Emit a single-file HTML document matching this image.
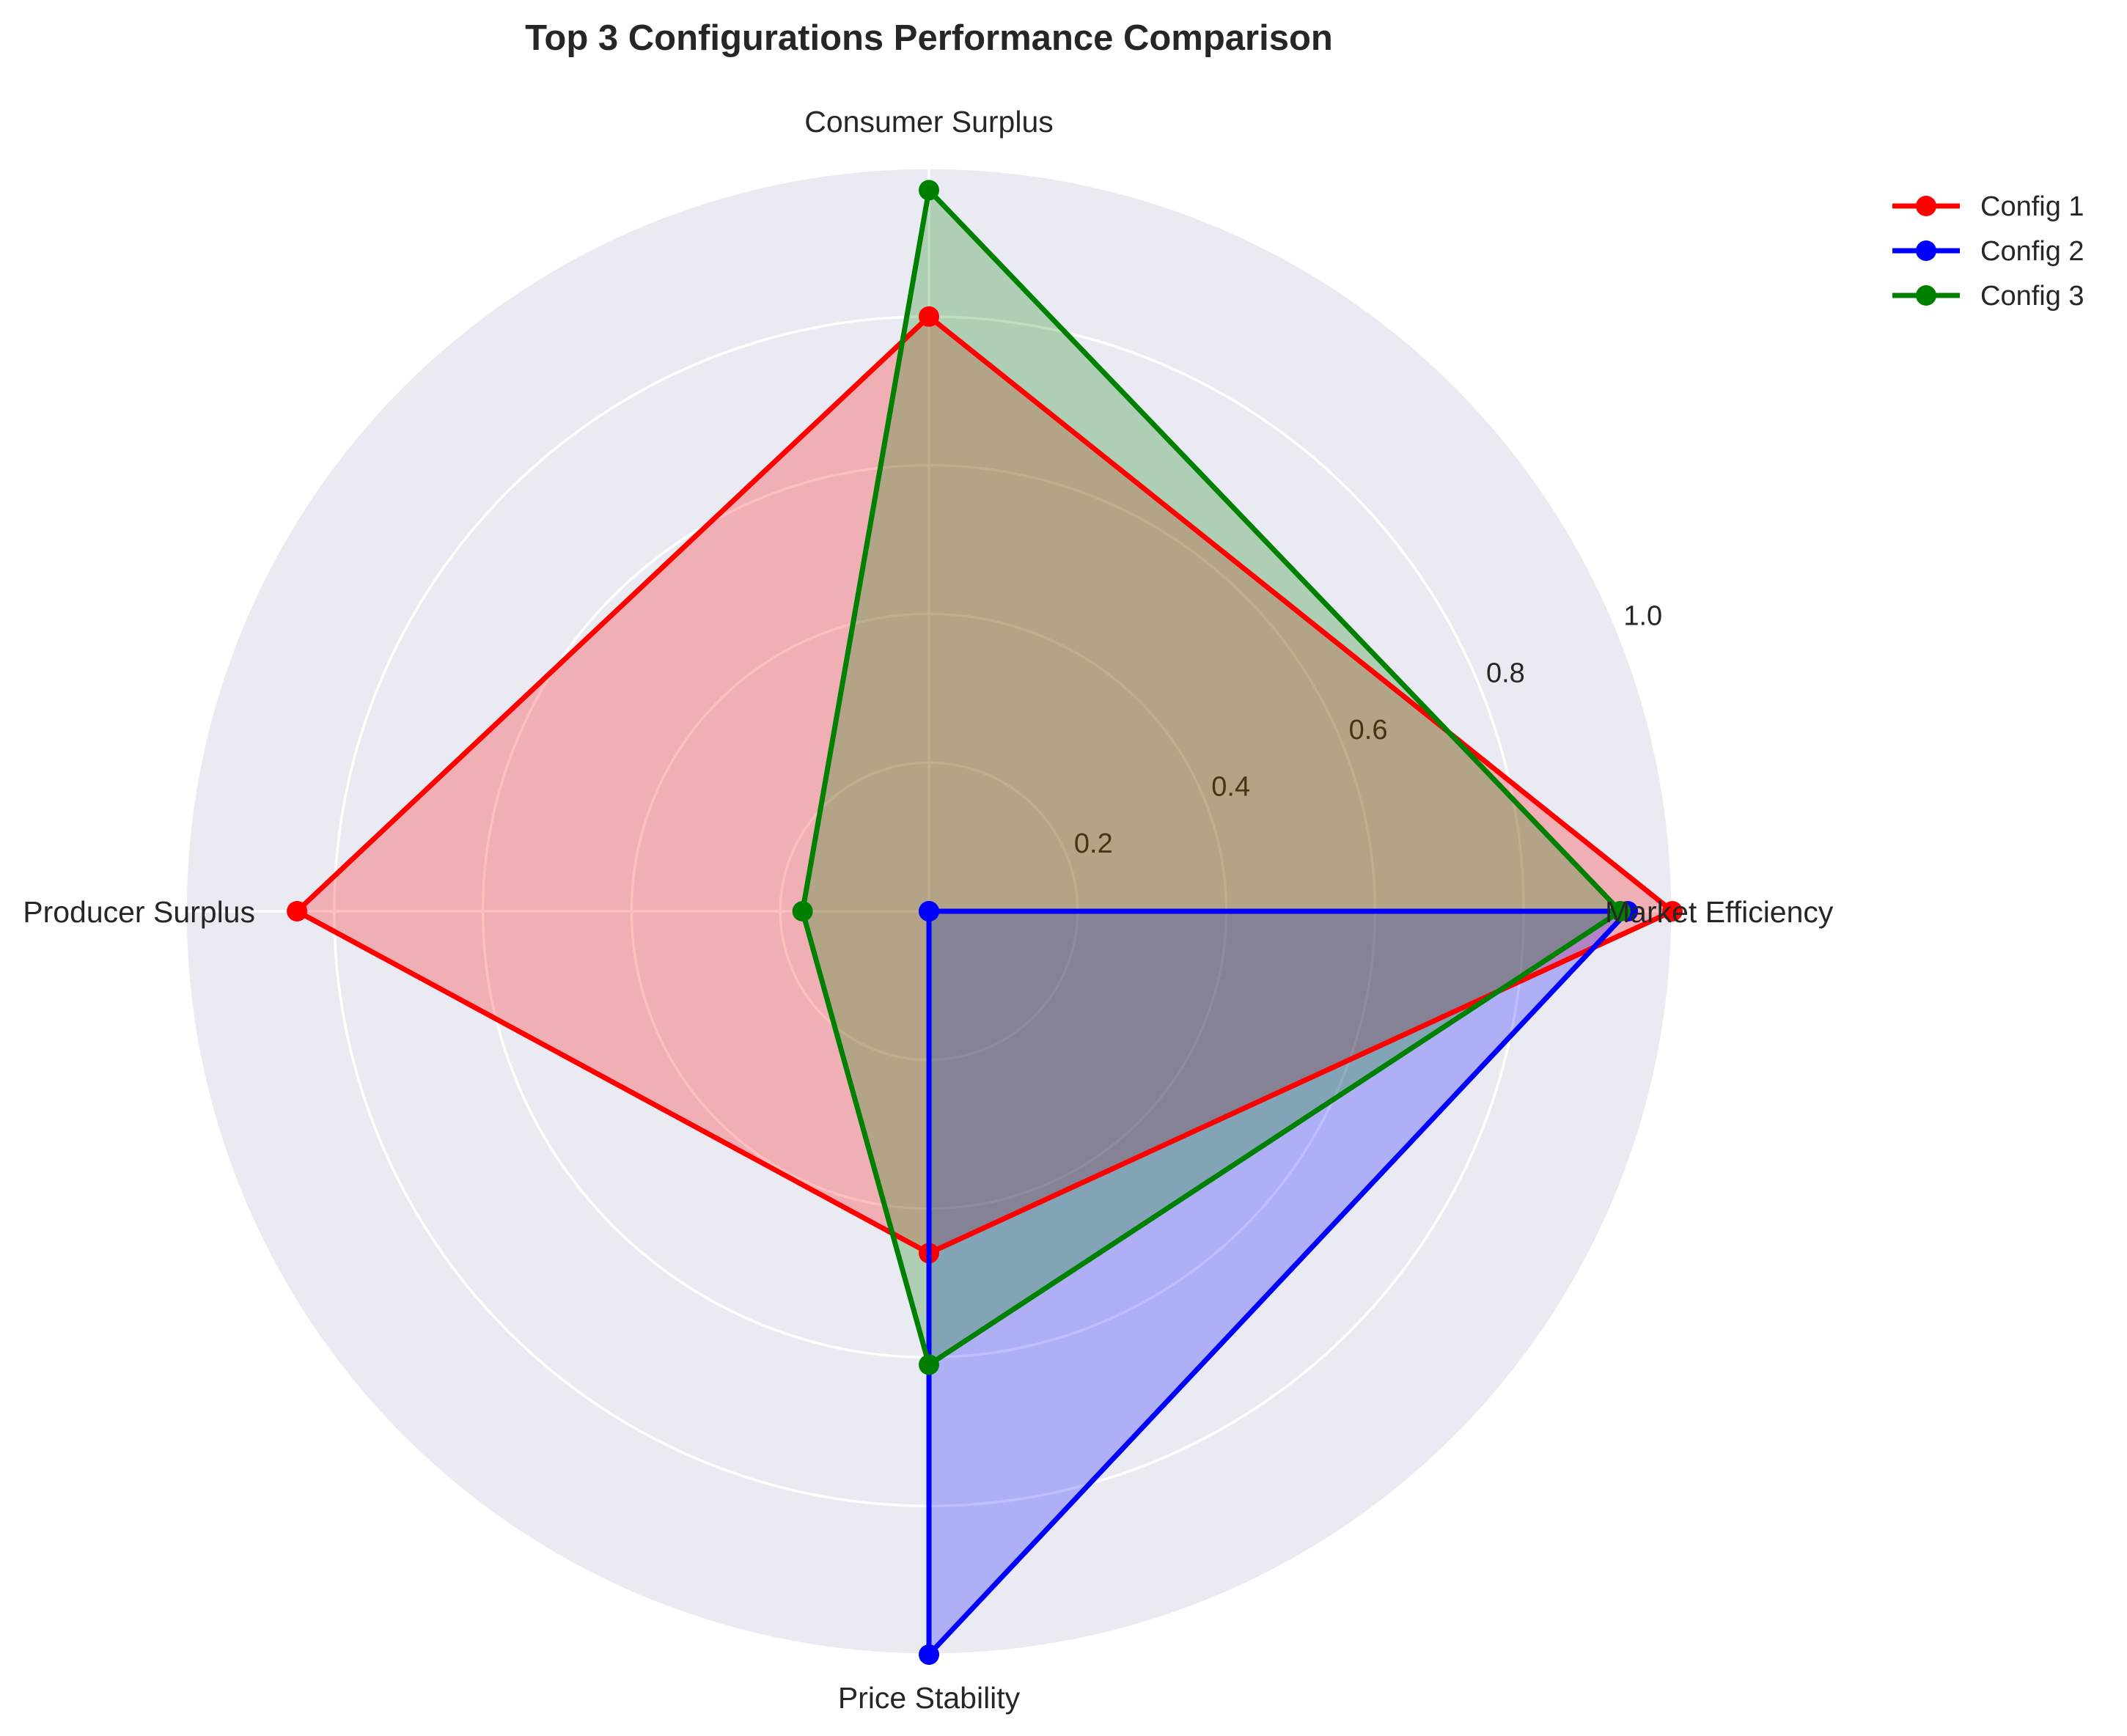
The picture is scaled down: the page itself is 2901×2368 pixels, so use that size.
<!DOCTYPE html>
<html><head><meta charset="utf-8"><style>
body{margin:0;background:#fff;}
svg{display:block;font-family:"Liberation Sans",sans-serif;}
</style></head><body>
<svg id="chart" width="2901" height="2368" viewBox="0 0 2901 2368">
<text x="1267" y="68" text-anchor="middle" font-size="49" font-weight="bold" fill="#262626">Top 3 Configurations Performance Comparison</text>
<g id="grid"></g><g id="series"></g><g id="labels"></g><g id="legend"></g>
</svg>
<script>
const categories = ["Market Efficiency","Consumer Surplus","Producer Surplus","Price Stability"];
const seriesNames = ["Config 1","Config 2","Config 3"];
const config1 = [1.0, 0.80, 0.85, 0.46];
const config2 = [0.94, 0.0, 0.0, 1.0];
const config3 = [0.93, 0.97, 0.17, 0.61];
const rTicks = [0.2, 0.4, 0.6, 0.8, 1.0];
const rTickLabels = ["0.2","0.4","0.6","0.8","1.0"];
const colors = ["#ff0000","#0000ff","#008000"];
const allSeries = [config1, config2, config3];

const NS = "http://www.w3.org/2000/svg";
const cx = 1267, cy = 1243, R = 1014;
function rScale(v){ return v * R; }
function ang(i){ return i * 2 * Math.PI / categories.length; }
function pt(i, v){ const a = ang(i), r = rScale(v); return [cx + r*Math.cos(a), cy - r*Math.sin(a)]; }
function mk(tag, attrs, parent){ const e = document.createElementNS(NS, tag); for (const k in attrs) e.setAttribute(k, attrs[k]); parent.appendChild(e); return e; }

const grid = document.getElementById('grid');
const bg = mk('circle', {cx:cx, cy:cy, r:R, fill:'#eaeaf2'}, grid);


rTicks.forEach((t, k) => {
  const c = mk('circle', {cx:cx, cy:cy, r:rScale(t), fill:'none', stroke:'#fff', 'stroke-width':3.5}, grid);
  
  
  const a = 22.5 * Math.PI / 180, rr = rScale(t) + 40;
  const tx = mk('text', {x:cx + rr*Math.cos(a), y:cy - rr*Math.sin(a) + 13, 'text-anchor':'middle', 'font-size':38, fill:'#262626'}, grid);
  tx.textContent = rTickLabels[k];
  
  
});
categories.forEach((c, i) => {
  const [x, y] = pt(i, 1);
  const l = mk('line', {x1:cx, y1:cy, x2:x, y2:y, stroke:'#fff', 'stroke-width':3.5}, grid);
  
  
});

const sg = document.getElementById('series');
const fillLayer = mk('g', {}, sg);
const lineLayer = mk('g', {}, sg);
allSeries.forEach((vals, s) => {
  const pts = vals.map((v, i) => pt(i, v));
  const d = pts.map(p => p[0].toFixed(1) + ',' + p[1].toFixed(1)).join(' ');
  const fill = mk('polygon', {points:d, fill:colors[s], 'fill-opacity':0.25, stroke:'none'}, fillLayer);
  
  
  const line = mk('polygon', {points:d, fill:'none', stroke:colors[s], 'stroke-width':7, 'stroke-linejoin':'miter'}, lineLayer);
  
  
  pts.forEach(p => {
    const m = mk('circle', {cx:p[0], cy:p[1], r:14, fill:colors[s]}, lineLayer);
    
    
  });
});

const lg = document.getElementById('labels');
const labPos = [[2189,1258,'start'],[1267,180,'middle'],[348,1258,'end'],[1267,2330,'middle']];
categories.forEach((c, i) => {
  const t = mk('text', {x:labPos[i][0], y:labPos[i][1], 'text-anchor':labPos[i][2], 'font-size':41, fill:'#262626'}, lg);
  t.textContent = c;
  
  
});

const leg = document.getElementById('legend');
seriesNames.forEach((n, s) => {
  const y = 281 + s*61;
  const g = mk('g', {}, leg);
  
  
  mk('line', {x1:2581, y1:y, x2:2673, y2:y, stroke:colors[s], 'stroke-width':7}, g);
  mk('circle', {cx:2627, cy:y, r:14, fill:colors[s]}, g);
  const t = mk('text', {x:2701, y:y+13, 'font-size':38, fill:'#262626'}, g);
  t.textContent = n;
});
</script>
</body></html>
